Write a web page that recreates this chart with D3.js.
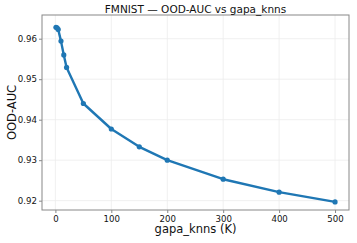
<!DOCTYPE html>
<html>
<head>
<meta charset="utf-8">
<script src="https://cdn.jsdelivr.net/npm/d3@7"></script>
<style>
  body { margin: 0; background: #fff; }
  text { font-family: "DejaVu Sans", sans-serif; }
</style>
</head>
<body>
<svg id="chart" width="357" height="243"></svg>
<script>
// values
const kValues = [1, 3, 5, 10, 15, 20, 50, 100, 150, 200, 300, 400, 500];
const aucValues = [0.9628, 0.9627, 0.9623, 0.9594, 0.9560, 0.9529, 0.9440, 0.9377, 0.9333, 0.9300, 0.9253, 0.9221, 0.9197];
const xTicks = [0, 100, 200, 300, 400, 500];
const yTicks = [0.92, 0.93, 0.94, 0.95, 0.96];

const margins = { top: 15, right: 8, bottom: 33, left: 42 };
const totalWidth = 357;
const totalHeight = 243;
const innerWidth = totalWidth - margins.left - margins.right;
const innerHeight = totalHeight - margins.top - margins.bottom;

const svg = d3.select("#chart");
const g = svg.append("g").attr("transform", `translate(${margins.left},${margins.top})`);

// matplotlib-ish 5% padding
const xPad = (d3.max(kValues) - d3.min(kValues)) * 0.05;
const xscale = d3.scaleLinear([d3.min(kValues) - xPad, d3.max(kValues) + xPad], [0, innerWidth]);
const yscale = d3.scaleLinear([0.9177, 0.96585], [innerHeight, 0]);

// grid
g.selectAll(".gx").data(xTicks).enter().append("line")
    .attr("x1", d => xscale(d)).attr("x2", d => xscale(d))
    .attr("y1", 0).attr("y2", innerHeight)
    .attr("stroke", "#ececec").attr("stroke-width", 0.8);
g.selectAll(".gy").data(yTicks).enter().append("line")
    .attr("x1", 0).attr("x2", innerWidth)
    .attr("y1", d => yscale(d)).attr("y2", d => yscale(d))
    .attr("stroke", "#ececec").attr("stroke-width", 0.8);

// axes
const xaxis = d3.axisBottom(xscale).tickValues(xTicks).tickSize(3).tickPadding(2.5).tickFormat(d3.format("d"));
const yaxis = d3.axisLeft(yscale).tickValues(yTicks).tickSize(3).tickPadding(2).tickFormat(d3.format(".2f"));
const gx = g.append("g").attr("transform", `translate(0,${innerHeight})`).call(xaxis);
const gy = g.append("g").call(yaxis);
[gx, gy].forEach(a => {
    a.select(".domain").remove();
    a.selectAll("line").attr("stroke", "#888");
    a.selectAll("text").attr("fill", "#111").style("font-size", "8.6px");
});

// frame
g.append("rect").attr("width", innerWidth).attr("height", innerHeight)
    .attr("fill", "none").attr("stroke", "#888").attr("stroke-width", 1);

// line + markers
const line = d3.line().x((d, i) => xscale(kValues[i])).y(d => yscale(d));
g.append("path").datum(aucValues).attr("d", line)
    .attr("fill", "none").attr("stroke", "#1f77b4").attr("stroke-width", 2.4)
    .attr("stroke-linejoin", "round");
g.selectAll(".dot").data(aucValues).enter().append("circle")
    .attr("cx", (d, i) => xscale(kValues[i])).attr("cy", d => yscale(d))
    .attr("r", 2.6).attr("fill", "#1f77b4");

// labels
svg.append("text").attr("x", margins.left + innerWidth / 2).attr("y", 12.5)
    .attr("text-anchor", "middle").style("font-size", "10.5px").attr("fill", "#111")
    .text("FMNIST — OOD-AUC vs gapa_knns");
svg.append("text").attr("x", margins.left + innerWidth / 2).attr("y", 233)
    .attr("text-anchor", "middle").style("font-size", "11.5px").attr("fill", "#111")
    .text("gapa_knns (K)");
svg.append("text").attr("transform", `translate(15.5,${margins.top + innerHeight / 2}) rotate(-90)`)
    .attr("text-anchor", "middle").style("font-size", "11.5px").attr("fill", "#111")
    .text("OOD-AUC");
</script>
</body>
</html>
